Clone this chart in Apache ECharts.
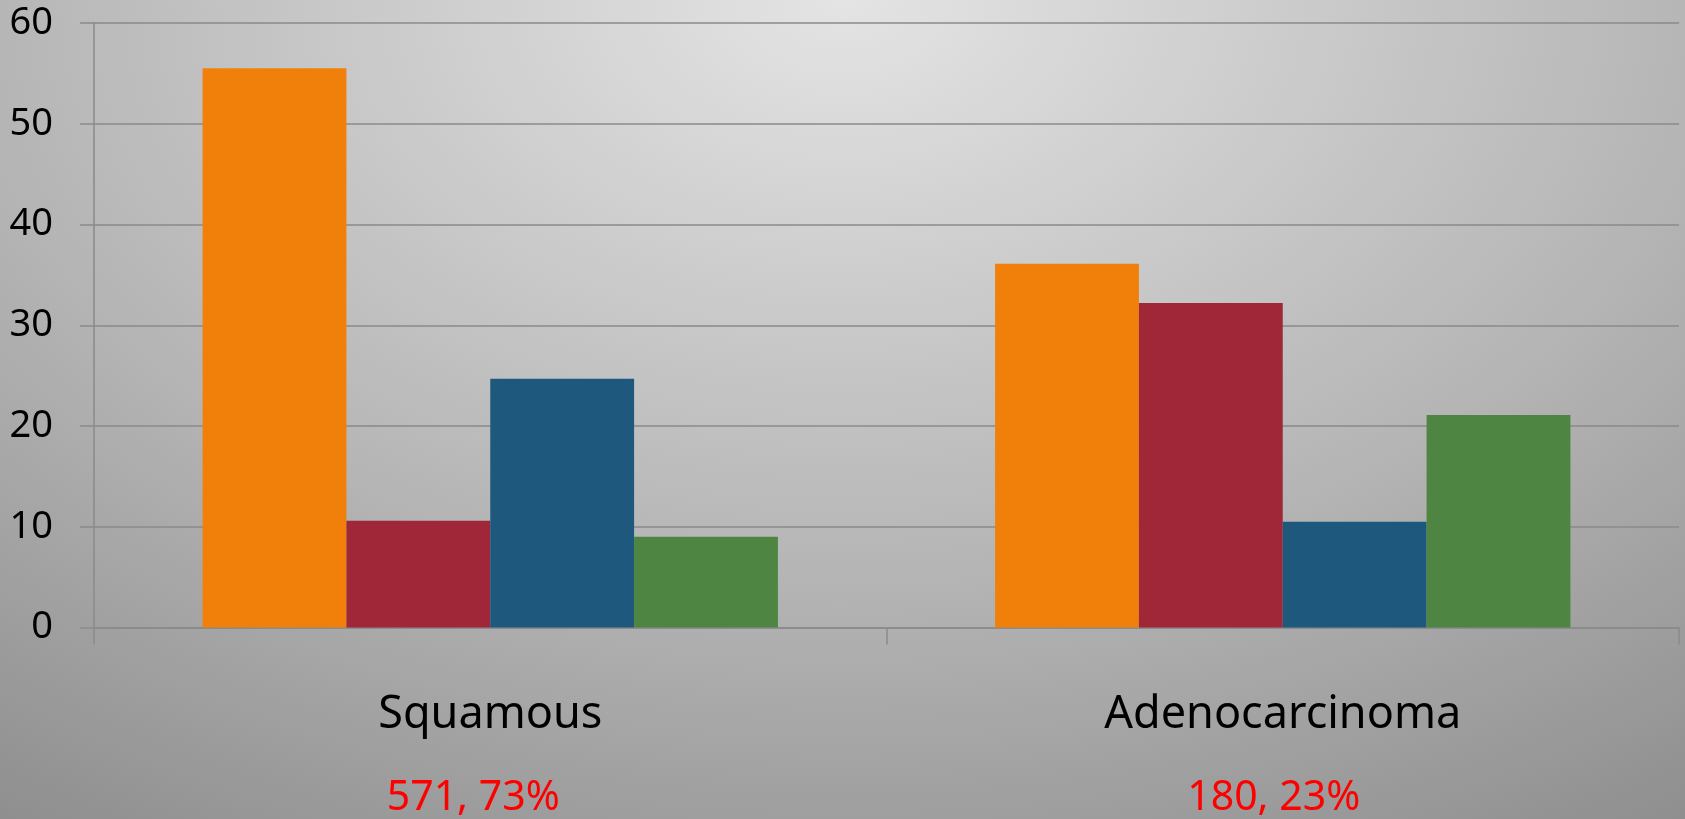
<!DOCTYPE html>
<html>
<head>
<meta charset="utf-8">
<title>Squamous vs Adenocarcinoma</title>
<script src="https://cdn.jsdelivr.net/npm/echarts@6/dist/echarts.min.js"></script>
<style>
    html, body {
        margin: 0;
        padding: 0;
        width: 100%;
        height: 100%;
        overflow: hidden;
    }
    body {
        background: radial-gradient(ellipse 95% 130% at 50% 0%, #e4e4e4 0%, #b4b4b4 55%, #888888 100%);
    }
    #chart {
        width: 1685px;
        height: 819px;
    }
</style>
</head>
<body>
<div id="chart"></div>
<script>
// categories and the red count/percent line under each
var acCategory = ['Squamous', 'Adenocarcinoma'];
var acCountText = ['571, 73%', '180, 23%'];

// series values
var anSeries1 = [55.5, 36.1];
var anSeries2 = [10.6, 32.2];
var anSeries3 = [24.7, 10.5];
var anSeries4 = [9.0, 21.1];

var acSeriesName = ['Series 1', 'Series 2', 'Series 3', 'Series 4'];
var acColor = ['#F0800A', '#A02738', '#1E597D', '#4E8543'];

// y axis ticks
var anYTicks = [0, 10, 20, 30, 40, 50, 60];

var cFont = '"Noto Sans", "Open Sans", sans-serif';
var cLine = '#8a8a8a';

var oChart = echarts.init(document.getElementById('chart'), null, {renderer: 'canvas'});

var aoSer = [];
var aanData = [anSeries1, anSeries2, anSeries3, anSeries4];
for (var i = 0; i < aanData.length; i++) {
    aoSer.push({
        name: acSeriesName[i],
        type: 'bar',
        data: aanData[i],
        barGap: '0%',
        barCategoryGap: '27.4%',
        silent: true,
        itemStyle: {
            color: acColor[i]
        }
    });
}

var oOpt = {
    backgroundColor: 'transparent',
    animation: false,
    grid: {
        left: 94,
        right: 6,
        top: 23,
        bottom: 190,
        containLabel: false
    },
    xAxis: {
        type: 'category',
        data: acCategory,
        axisLine: {
            show: true,
            lineStyle: {color: cLine, width: 1.5}
        },
        axisTick: {
            show: true,
            length: 17,
            lineStyle: {color: cLine, width: 1.5}
        },
        axisLabel: {
            margin: 47,
            interval: 0,
            formatter: function (cVal, nIdx) {
                return '{n|' + cVal + '}\n{v' + nIdx + '|' + acCountText[nIdx] + '}';
            },
            rich: {
                n: {
                    fontFamily: cFont,
                    fontSize: 45,
                    color: '#000',
                    lineHeight: 82
                },
                v0: {
                    fontFamily: cFont,
                    fontSize: 41,
                    color: '#ff0000',
                    lineHeight: 84,
                    padding: [0, 34, 0, 0]
                },
                v1: {
                    fontFamily: cFont,
                    fontSize: 41,
                    color: '#ff0000',
                    lineHeight: 84,
                    padding: [0, 18, 0, 0]
                }
            }
        },
        splitLine: {show: false}
    },
    yAxis: {
        type: 'value',
        min: anYTicks[0],
        max: anYTicks[anYTicks.length - 1],
        interval: anYTicks[1] - anYTicks[0],
        axisLine: {
            show: true,
            lineStyle: {color: cLine, width: 1.5}
        },
        axisTick: {
            show: true,
            length: 14,
            lineStyle: {color: cLine, width: 1.5}
        },
        axisLabel: {
            margin: 41,
            fontFamily: cFont,
            fontSize: 38,
            color: '#000'
        },
        splitLine: {
            show: true,
            lineStyle: {color: cLine, width: 1.5}
        }
    },
    series: aoSer
};

oChart.setOption(oOpt);
</script>
</body>
</html>
